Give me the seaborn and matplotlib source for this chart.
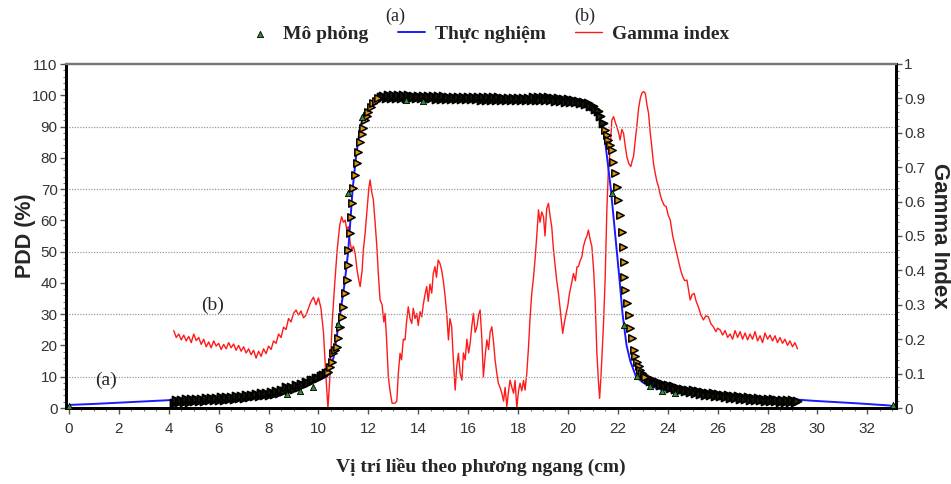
### PDD profile + gamma index, recreated with seaborn
import numpy as np
import matplotlib.pyplot as plt
import seaborn as sns
import pandas as pd
from matplotlib.ticker import MultipleLocator

# --- measured profile (Thực nghiệm) ---
meas_x = [0.0, 0.05, 1.0, 2.0, 3.0, 4.0, 5.0, 6.0, 7.0, 8.0, 8.5, 9.0, 9.5, 10.0,
          10.33, 10.6, 10.87, 11.05, 11.19, 11.28, 11.37, 11.5, 11.67, 11.85, 12.07,
          12.3, 12.5, 13.0, 14.0, 15.0, 16.0, 17.0, 18.0, 19.0, 19.5, 20.0, 20.5,
          20.9, 21.1, 21.25, 21.42, 21.57, 21.72, 21.84, 21.96, 22.08, 22.19, 22.35,
          22.5, 22.73, 23.0, 23.3, 23.8, 24.36, 25.0, 26.1, 27.3, 28.5, 29.84, 31.58,
          32.9, 33.04]
meas_pdd = [0.6, 1.0, 1.3, 1.7, 2.1, 2.5, 2.9, 3.3, 4.0, 4.9, 5.6, 6.5, 7.6, 9.0,
            10.0, 16.0, 30.0, 40.0, 50.0, 60.0, 70.0, 80.0, 90.0, 94.0, 97.0,
            98.3, 98.8, 99.1, 99.2, 99.2, 99.1, 99.0, 98.9, 99.0, 98.8, 98.6, 98.2,
            97.2, 95.5, 93.0, 90.0, 80.0, 70.0, 60.0, 50.0, 40.0, 30.0, 20.0,
            15.0, 10.0, 8.2, 7.0, 5.8, 5.0, 4.6, 4.2, 3.6, 3.1, 2.3, 1.5,
            0.8, 0.4]

# --- simulation (Mô phỏng), (x, PDD) pairs per region ---
sim_tail_left = [
    (4.2, 1.6), (4.3, 2.6), (4.4, 1.9), (4.5, 2.7), (4.6, 1.8), (4.7, 2.8), (4.8, 2.0),
    (4.9, 2.9), (5.0, 2.1), (5.1, 3.0), (5.2, 2.2), (5.3, 3.0), (5.4, 2.3), (5.5, 3.1),
    (5.6, 2.4), (5.7, 3.2), (5.8, 2.5), (5.9, 3.3), (6.0, 2.6), (6.1, 3.4), (6.2, 2.7),
    (6.3, 3.5), (6.4, 2.8), (6.5, 3.6), (6.6, 3.0), (6.7, 3.8), (6.8, 3.1), (6.9, 3.9),
    (7.0, 3.3), (7.1, 4.1), (7.2, 3.5), (7.3, 4.3), (7.4, 3.7), (7.5, 4.5), (7.6, 3.9),
    (7.7, 4.7), (7.8, 4.1), (7.9, 4.9), (8.0, 4.3), (8.1, 5.1), (8.2, 4.6), (8.3, 5.4),
    (8.4, 4.9), (8.5, 5.8), (8.6, 5.3), (8.7, 6.6), (8.8, 5.8), (8.9, 6.6), (9.0, 6.2),
    (9.1, 7.4), (9.2, 6.8), (9.3, 7.8), (9.4, 7.4), (9.5, 8.3), (9.6, 8.0), (9.7, 8.9),
    (9.8, 8.8), (9.9, 9.5), (10.0, 9.6), (10.1, 10.3), (10.2, 10.6), (10.3, 11.2)]
sim_pen_left = [
    (10.4, 11.6), (10.47, 13.0), (10.53, 14.8), (10.6, 17.5), (10.67, 18.5),
    (10.73, 19.6), (10.8, 22.3), (10.87, 26.0), (10.93, 29.2), (11.0, 32.4),
    (11.07, 36.7), (11.13, 40.9), (11.17, 45.7), (11.2, 50.5), (11.27, 55.9),
    (11.29, 61.2), (11.33, 65.5), (11.4, 70.3), (11.47, 74.5), (11.54, 78.3),
    (11.6, 82.0), (11.67, 85.2), (11.73, 87.5), (11.8, 89.4), (11.87, 92.1),
    (11.93, 93.5), (12.0, 94.8), (12.1, 96.3), (12.2, 97.4), (12.3, 98.3), (12.4, 99.0)]
sim_top = [
    (12.5, 99.3), (12.6, 99.9), (12.7, 99.1), (12.8, 100.1), (12.9, 99.2), (13.0, 100.2),
    (13.1, 99.2), (13.2, 100.1), (13.3, 99.1), (13.4, 100.0), (13.5, 99.0), (13.6, 100.0),
    (13.7, 99.1), (13.8, 99.9), (13.9, 99.0), (14.0, 99.9), (14.1, 99.0), (14.2, 99.8),
    (14.3, 98.9), (14.4, 99.8), (14.5, 99.0), (14.6, 99.8), (14.7, 98.9), (14.8, 99.7),
    (14.9, 98.9), (15.0, 99.7), (15.1, 98.9), (15.2, 99.6), (15.3, 98.8), (15.4, 99.6),
    (15.5, 98.8), (15.6, 99.5), (15.7, 98.8), (15.8, 99.5), (15.9, 98.7), (16.0, 99.5),
    (16.1, 98.7), (16.2, 99.4), (16.3, 98.7), (16.4, 99.4), (16.5, 98.6), (16.6, 99.4),
    (16.7, 98.6), (16.8, 99.3), (16.9, 98.6), (17.0, 99.3), (17.1, 98.5), (17.2, 99.3),
    (17.3, 98.5), (17.4, 99.2), (17.5, 98.5), (17.6, 99.2), (17.7, 98.4), (17.8, 99.1),
    (17.9, 98.4), (18.0, 99.1), (18.1, 98.4), (18.2, 99.1), (18.3, 98.4), (18.4, 99.2),
    (18.5, 98.5), (18.6, 99.4), (18.7, 98.6), (18.8, 99.5), (18.9, 98.6), (19.0, 99.4),
    (19.1, 98.5), (19.2, 99.3), (19.3, 98.4), (19.4, 99.2), (19.5, 98.3), (19.6, 99.0),
    (19.7, 98.2), (19.8, 98.9), (19.9, 98.0), (20.0, 98.7), (20.1, 97.9), (20.2, 98.5),
    (20.3, 97.7), (20.4, 98.3), (20.5, 97.5), (20.6, 98.0), (20.7, 97.2), (20.8, 97.6),
    (20.9, 96.7), (21.0, 96.6), (21.1, 95.6), (21.2, 95.0), (21.3, 93.5), (21.4, 91.0)]
sim_pen_right = [
    (21.49, 88.9), (21.55, 87.3), (21.62, 85.7), (21.69, 84.0), (21.76, 82.5),
    (21.82, 78.8), (21.89, 75.1), (21.96, 70.8), (22.02, 66.5), (22.09, 61.7),
    (22.16, 56.4), (22.2, 51.6), (22.23, 46.8), (22.25, 42.0), (22.29, 37.7),
    (22.36, 33.5), (22.43, 29.7), (22.49, 25.5), (22.56, 22.3), (22.63, 18.5),
    (22.7, 16.5), (22.76, 14.8), (22.83, 13.4), (22.89, 12.2), (22.96, 11.2),
    (23.03, 10.5), (23.1, 10.0)]
sim_tail_right = [
    (23.2, 9.4), (23.3, 8.6), (23.4, 8.9), (23.5, 8.0), (23.6, 8.3), (23.7, 7.4),
    (23.8, 7.8), (23.9, 6.9), (24.0, 7.3), (24.1, 6.5), (24.2, 6.9), (24.3, 6.1),
    (24.4, 6.5), (24.5, 5.7), (24.6, 6.2), (24.7, 5.4), (24.8, 5.9), (24.9, 5.1),
    (25.0, 5.6), (25.1, 4.8), (25.2, 5.3), (25.3, 4.6), (25.4, 5.1), (25.5, 4.3),
    (25.6, 4.9), (25.7, 4.1), (25.8, 4.7), (25.9, 3.9), (26.0, 4.5), (26.1, 3.7),
    (26.2, 4.3), (26.3, 3.5), (26.4, 4.1), (26.5, 3.3), (26.6, 3.9), (26.7, 3.1),
    (26.8, 3.7), (26.9, 3.0), (27.0, 3.6), (27.1, 2.8), (27.2, 3.4), (27.3, 2.7),
    (27.4, 3.3), (27.5, 2.5), (27.6, 3.1), (27.7, 2.4), (27.8, 3.0), (27.9, 2.3),
    (28.0, 2.9), (28.1, 2.2), (28.2, 2.8), (28.3, 2.1), (28.4, 2.7), (28.5, 2.0),
    (28.6, 2.6), (28.7, 1.9), (28.8, 2.5), (28.9, 1.8), (29.0, 2.4), (29.1, 1.8),
    (29.2, 2.2)]

# a few simulation points drawn in green (legend marker)
sim_g_x = [0.02, 8.73, 9.26, 9.8, 10.8, 11.2, 11.73, 13.5, 14.2, 21.76, 22.23, 22.76,
           23.27, 23.76, 24.3, 33.04]
sim_g_pdd = [0.5, 4.5, 5.5, 6.8, 27.0, 68.7, 93.0, 98.5, 98.3, 68.6, 26.5, 10.2,
             7.0, 5.4, 4.7, 1.0]

# --- gamma index ---
gam_x = [4.2, 4.3, 4.4, 4.5, 4.6, 4.7, 4.8, 4.9, 5.0, 5.1, 5.2, 5.3, 5.4, 5.5, 5.6,
         5.7, 5.8, 5.9, 6.0, 6.1, 6.2, 6.3, 6.4, 6.5, 6.6, 6.7, 6.8, 6.9, 7.0, 7.1,
         7.2, 7.3, 7.4, 7.5, 7.6, 7.7, 7.8, 7.9, 8.0, 8.1, 8.2, 8.3, 8.4, 8.5, 8.6,
         8.7, 8.8, 8.9, 9.0, 9.1, 9.2, 9.3, 9.4, 9.5, 9.6, 9.7, 9.8, 9.9, 10.0, 10.1,
         10.2, 10.3, 10.38, 10.45, 10.55, 10.65, 10.75, 10.85, 10.93, 11.0, 11.07,
         11.13, 11.2, 11.27, 11.33, 11.4, 11.47, 11.55, 11.62, 11.67, 11.75, 11.8,
         11.87, 11.95, 12.02, 12.07, 12.13, 12.2, 12.27, 12.34, 12.4, 12.47, 12.55,
         12.62, 12.67, 12.73, 12.8, 12.87, 12.95, 13.07, 13.14, 13.2, 13.27, 13.33,
         13.4, 13.47, 13.53, 13.6, 13.67, 13.74, 13.8, 13.87, 13.94, 14.0, 14.07,
         14.14, 14.2, 14.27, 14.34, 14.4, 14.47, 14.54, 14.6, 14.67, 14.73, 14.8,
         14.87, 14.94, 15.0, 15.07, 15.14, 15.21, 15.27, 15.34, 15.4, 15.48, 15.54,
         15.61, 15.68, 15.75, 15.81, 15.88, 15.95, 16.02, 16.08, 16.15, 16.21, 16.28,
         16.35, 16.42, 16.48, 16.55, 16.61, 16.68, 16.75, 16.82, 16.88, 16.95, 17.02,
         17.08, 17.15, 17.21, 17.28, 17.35, 17.42, 17.48, 17.55, 17.62, 17.68, 17.75,
         17.82, 17.88, 17.95, 18.02, 18.08, 18.15, 18.22, 18.28, 18.35, 18.42, 18.48,
         18.55, 18.62, 18.68, 18.75, 18.82, 18.88, 18.95, 19.02, 19.08, 19.15, 19.22,
         19.28, 19.35, 19.42, 19.49, 19.55, 19.62, 19.7, 19.79, 19.86, 19.93, 20.0,
         20.06, 20.14, 20.22, 20.3, 20.36, 20.42, 20.5, 20.56, 20.62, 20.7, 20.76,
         20.82, 20.89, 20.96, 21.03, 21.09, 21.16, 21.22, 21.27, 21.33, 21.42, 21.49,
         21.56, 21.62, 21.69, 21.76, 21.83, 21.9, 21.96, 22.03, 22.09, 22.16, 22.23,
         22.3, 22.36, 22.44, 22.52, 22.58, 22.63, 22.7, 22.76, 22.83, 22.9, 22.96,
         23.03, 23.1, 23.17, 23.23, 23.3, 23.36, 23.43, 23.5, 23.56, 23.63, 23.7,
         23.76, 23.85, 23.94, 24.02, 24.1, 24.2, 24.3, 24.36, 24.43, 24.52, 24.6,
         24.68, 24.77, 24.84, 24.9, 24.98, 25.06, 25.14, 25.23, 25.33, 25.43, 25.53,
         25.63, 25.73, 25.83, 25.93, 26.0, 26.1, 26.2, 26.3, 26.4, 26.5, 26.6, 26.7,
         26.8, 26.9, 27.0, 27.1, 27.2, 27.3, 27.4, 27.5, 27.6, 27.7, 27.8, 27.9,
         28.0, 28.1, 28.2, 28.3, 28.4, 28.5, 28.6, 28.7, 28.8, 28.9, 29.0, 29.1, 29.2]
gam_val = [0.225, 0.205, 0.215, 0.198, 0.212, 0.195, 0.208, 0.19, 0.215, 0.196, 0.205,
           0.185, 0.2, 0.178, 0.192, 0.175, 0.195, 0.18, 0.188, 0.17, 0.185, 0.172,
           0.19, 0.175, 0.186, 0.168, 0.182, 0.165, 0.178, 0.16, 0.172, 0.155, 0.168,
           0.145, 0.165, 0.15, 0.172, 0.158, 0.18, 0.17, 0.195, 0.188, 0.215, 0.205,
           0.235, 0.228, 0.26, 0.25, 0.275, 0.285, 0.27, 0.282, 0.262, 0.27, 0.29,
           0.31, 0.322, 0.3, 0.32, 0.29, 0.22, 0.09, 0.0, 0.08, 0.25, 0.36, 0.46,
           0.53, 0.556, 0.54, 0.546, 0.52, 0.527, 0.48, 0.459, 0.47, 0.45, 0.40,
           0.37, 0.353, 0.40, 0.46, 0.508, 0.58, 0.64, 0.663, 0.63, 0.605, 0.54,
           0.469, 0.39, 0.314, 0.30, 0.25, 0.275, 0.2, 0.091, 0.05, 0.014, 0.014,
           0.02, 0.1, 0.159, 0.14, 0.2, 0.198, 0.25, 0.294, 0.26, 0.246, 0.29, 0.26,
           0.275, 0.24, 0.28, 0.265, 0.3, 0.33, 0.353, 0.31, 0.36, 0.334, 0.39,
           0.411, 0.38, 0.43, 0.42, 0.40, 0.372, 0.33, 0.275, 0.198, 0.26, 0.236,
           0.15, 0.052, 0.12, 0.159, 0.1, 0.081, 0.16, 0.14, 0.2, 0.16, 0.188, 0.24,
           0.275, 0.22, 0.236, 0.27, 0.285, 0.2, 0.091, 0.15, 0.198, 0.17, 0.22,
           0.236, 0.19, 0.14, 0.1, 0.072, 0.06, 0.043, 0.02, 0.06, 0.004, 0.05, 0.081,
           0.06, 0.043, 0.08, 0.0, 0.05, 0.072, 0.05, 0.08, 0.052, 0.1, 0.178, 0.26,
           0.333, 0.38, 0.43, 0.5, 0.576, 0.54, 0.57, 0.556, 0.5, 0.58, 0.595, 0.56,
           0.527, 0.46, 0.411, 0.37, 0.333, 0.28, 0.217, 0.25, 0.275, 0.3, 0.333,
           0.36, 0.391, 0.37, 0.41, 0.411, 0.43, 0.44, 0.469, 0.49, 0.5, 0.517, 0.49,
           0.469, 0.40, 0.314, 0.159, 0.081, 0.028, 0.1, 0.236, 0.372, 0.576, 0.69,
           0.75, 0.837, 0.847, 0.83, 0.818, 0.8, 0.779, 0.81, 0.798, 0.76, 0.731,
           0.71, 0.702, 0.72, 0.731, 0.78, 0.818, 0.87, 0.9, 0.915, 0.92, 0.915,
           0.88, 0.857, 0.8, 0.76, 0.71, 0.682, 0.66, 0.643, 0.62, 0.605, 0.59,
           0.585, 0.56, 0.547, 0.5, 0.469, 0.45, 0.43, 0.4, 0.382, 0.37, 0.372,
           0.34, 0.314, 0.33, 0.333, 0.31, 0.294, 0.27, 0.256, 0.268, 0.265, 0.245,
           0.236, 0.222, 0.232, 0.227, 0.212, 0.225, 0.205, 0.215, 0.2, 0.225, 0.205,
           0.222, 0.2, 0.218, 0.198, 0.215, 0.2, 0.222, 0.195, 0.21, 0.19, 0.218,
           0.2, 0.212, 0.195, 0.21, 0.19, 0.205, 0.188, 0.2, 0.182, 0.195, 0.178,
           0.19, 0.172]

meas = pd.DataFrame({"x": meas_x, "pdd": meas_pdd})
sim_dense = pd.DataFrame(sim_tail_left + sim_top + sim_tail_right, columns=["x", "pdd"])
sim_pen = pd.DataFrame(sim_pen_left + sim_pen_right, columns=["x", "pdd"])
sim_g = pd.DataFrame({"x": sim_g_x, "pdd": sim_g_pdd})
gam = pd.DataFrame({"x": gam_x, "g": gam_val})

sns.set_theme(style="white")
plt.rcParams['font.family'] = ['Liberation Sans Narrow', 'Liberation Sans', 'DejaVu Sans']

fig = plt.figure(figsize=(9.51, 4.84), dpi=100)
ax = fig.add_axes([66/951, 1-408/484, 830/951, 344/484])
ax2 = ax.twinx()

# dotted grid lines
for g in [10, 30, 50, 70, 90]:
    ax.axhline(g, color="#999999", lw=0.9, ls=(0, (1, 1.2)), zorder=0)

sns.lineplot(data=gam, x="x", y="g", ax=ax2, color="#ff1a1a", lw=1.0,
             sort=False, estimator=None, label="Gamma index")
sns.lineplot(data=meas, x="x", y="pdd", ax=ax, color="#1a1aff", lw=1.4,
             sort=False, estimator=None, label="Thực nghiệm", zorder=3)
# dense overlapping points look like a black band
sns.scatterplot(data=sim_dense, x="x", y="pdd", ax=ax, marker=">", s=32,
                color="#2a2208", edgecolor="black", linewidth=1.4, zorder=4)
sns.scatterplot(data=sim_pen, x="x", y="pdd", ax=ax, marker=">", s=28,
                color="#e0940a", edgecolor="black", linewidth=1.1, zorder=4)
sns.scatterplot(data=sim_g, x="x", y="pdd", ax=ax, marker="^", s=20,
                color="#2f8f2f", edgecolor="black", linewidth=0.6, zorder=5,
                label="Mô phỏng")
for a in (ax, ax2):
    if a.get_legend() is not None:
        a.get_legend().remove()

ax.set_zorder(ax2.get_zorder() + 1)
ax.patch.set_visible(False)

ax.set_xlim(-0.12, 33.15)
ax.set_ylim(0, 110)
ax2.set_ylim(0, 1)

ax.xaxis.set_major_locator(MultipleLocator(2))
ax.xaxis.set_minor_locator(MultipleLocator(0.5))
ax.yaxis.set_major_locator(MultipleLocator(10))
ax.yaxis.set_minor_locator(MultipleLocator(2))
ax2.set_yticks(np.arange(0, 1.01, 0.1))
ax2.set_yticklabels(["0"] + ["%.1f" % v for v in np.arange(0.1, 0.95, 0.1)] + ["1"])
ax2.yaxis.set_minor_locator(MultipleLocator(0.02))

for a in (ax, ax2):
    a.tick_params(which="major", direction="out", length=4, width=1, color="#555555",
                  labelsize=11, labelcolor="#333333", pad=2)
    a.tick_params(which="minor", direction="out", length=2, width=0.8, color="#777777")
ax.tick_params(bottom=True, left=True, which="both")
ax2.tick_params(right=True, which="both")
ax.tick_params(axis="x", pad=6)

for a in (ax, ax2):
    for side in ["left", "bottom", "right"]:
        a.spines[side].set_color("black")
        a.spines[side].set_linewidth(2)
    a.spines["top"].set_color("#777777")
    a.spines["top"].set_linewidth(1.6)

ax.set_xlabel("Vị trí liều theo phương ngang (cm)", family="Liberation Serif",
              fontsize=14, fontweight="bold", labelpad=16)
ax.set_ylabel("PDD (%)", family="Liberation Sans", fontsize=15.5, fontweight="bold")
ax.yaxis.set_label_coords(-0.036, 0.5)
ax2.set_ylabel("Gamma Index", family="Liberation Sans", fontsize=16,
               fontweight="bold", rotation=-90, labelpad=18)

ax.text(1.05, 7.5, "(a)", family="Liberation Serif", fontsize=14)
ax.text(5.3, 31.5, "(b)", family="Liberation Serif", fontsize=14)

h1, l1 = ax.get_legend_handles_labels()
h2, l2 = ax2.get_legend_handles_labels()
order = {"Mô phỏng": 0, "Thực nghiệm": 1, "Gamma index": 2}
hl = sorted(zip(h1 + h2, l1 + l2), key=lambda t: order.get(t[1], 9))
hl = [t for t in hl if t[1] in order]
fig.legend([t[0] for t in hl], [t[1] for t in hl], loc="center", ncol=3,
           bbox_to_anchor=(0.513, 0.93), frameon=False, handlelength=1.4,
           columnspacing=1.5, handletextpad=0.5,
           prop={"family": "Liberation Serif", "weight": "bold", "size": 14})
fig.text(395/951, 1-16/484, "(a)", family="Liberation Serif", fontsize=13,
         ha="center", va="center")
fig.text(585/951, 1-16/484, "(b)", family="Liberation Serif", fontsize=13,
         ha="center", va="center")

plt.savefig("out.png", dpi=100)
